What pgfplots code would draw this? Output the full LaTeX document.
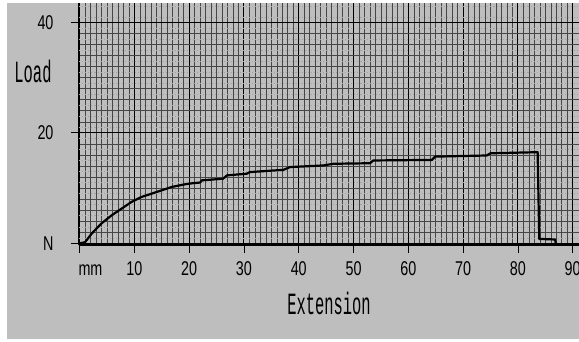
\documentclass[border=0pt]{standalone}
\usepackage{pgfplots}
\pgfplotsset{compat=1.18}
\usepackage{fontspec}
\newfontfamily\narrow[FakeStretch=0.72]{Liberation Sans}
\newfontfamily\mono[FakeStretch=0.5]{Liberation Mono}
\definecolor{bg}{RGB}{190,190,190}
\definecolor{gridc}{RGB}{70,70,70}
\begin{document}
\begin{tikzpicture}[x=1bp,y=1bp]
\fill[white] (0,0) rectangle (579,341);
\fill[bg] (7,2) rectangle (579,338);
\begin{axis}[
  at={(79bp,96bp)}, anchor=south west,
  width=500bp, height=242bp, scale only axis,
  xmin=-0.1, xmax=91.15, ymin=-0.3, ymax=43.5,
  axis x line*=bottom, axis y line*=left,
  axis line style={black, line width=1.2bp, -},
  xtick={0,10,...,90}, xticklabels={\makebox[0pt][l]{\hspace*{-1bp}mm},10,20,30,40,50,60,70,80,90},
  minor x tick num=9,
  ytick={0,20,40}, yticklabels={N,20,40},
  minor y tick num=9,
  grid=both,
  major grid style={black, line width=1.1bp},
  minor grid style={gridc, line width=0.55bp},
  tick align=outside, major tick length=8bp, minor tick length=0pt,
  tick style={black, line width=0.8bp},
  tick label style={font=\narrow\fontsize{20}{20}\selectfont},
  xticklabel style={anchor=base, yshift=-22bp},
  yticklabel style={anchor=east, xshift=-14bp},
  extra y ticks={1,3,...,43}, extra y tick labels={},
  extra y tick style={grid=major, major grid style={gridc!50, dotted, line width=0.5bp}, major tick length=0pt},
]
\addplot[black, line width=2.2bp, line join=round] coordinates {
(0,0) (1,0.2) (2.2,1.75) (4,3.6) (5.9,5.1) (7.7,6.3) (9.5,7.5) (11.3,8.4)
(13.2,9.0) (15,9.6) (16.8,10.2) (19.3,10.7) (20.8,10.9) (22,11.0) (22.3,11.4)
(26.2,11.7) (26.9,12.3) (30.5,12.6) (31.1,12.9) (37.2,13.3) (38.4,13.8)
(44.5,14.1) (46.3,14.4) (53,14.5) (53.6,15.0) (64.3,15.1) (64.9,15.7)
(74.3,15.9) (75,16.3) (83.6,16.5) (83.9,0.8) (86.8,0.7) (86.9,0)
};
\end{axis}
\node[font=\mono\fontsize{31}{31}\selectfont] at (33,269) {Load};
\node[font=\mono\fontsize{31}{31}\selectfont] at (329,38) {Extension};
\pgfresetboundingbox
\path[use as bounding box] (0,0) rectangle (579,341);
\end{tikzpicture}
\end{document}
